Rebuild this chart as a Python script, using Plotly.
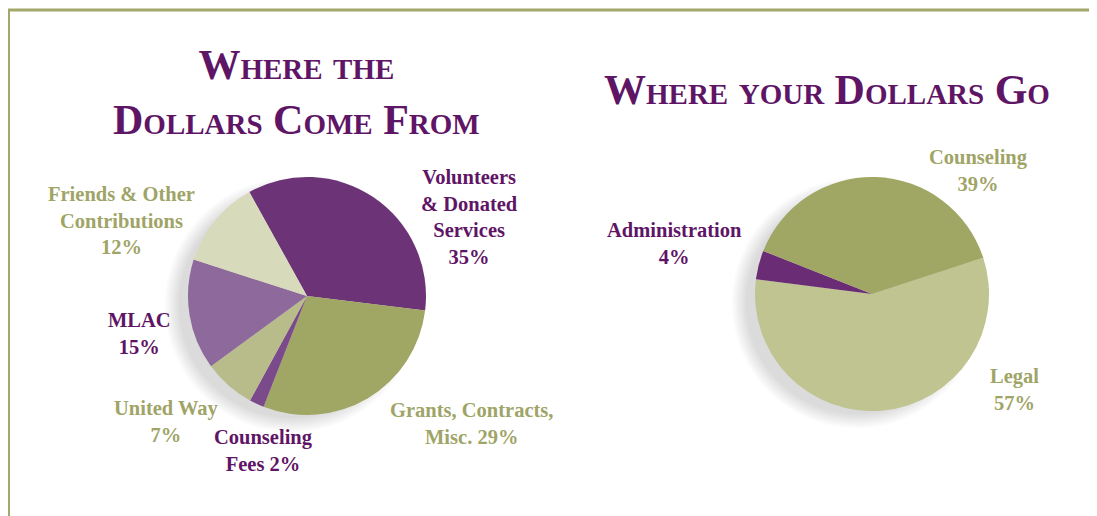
import plotly.graph_objects as go

# The page has an 8px body margin; figure sized to fit the window
OFF = 8
W, H = 1097 - OFF, 516 - OFF

# ---- data ----
src_labels = ["Volunteers & Donated Services", "Grants, Contracts, Misc.", "Counseling Fees",
              "United Way", "MLAC", "Friends & Other Contributions"]
src_values = [35, 29, 2, 7, 15, 12]
src_colors = ["#6c3377", "#a0a664", "#7b4a8b", "#b8bc8a", "#8d6a9b", "#d7dabb"]
src_text_lines = ["Volunteers<br>& Donated<br>Services", "Grants, Contracts,<br>Misc.", "Counseling<br>Fees",
                  "United Way", "MLAC", "Friends & Other<br>Contributions"]
src_text_sep = ["<br>", " ", " ", "<br>", "<br>", "<br>"]
src_text_colors = ["#5f1566", "#9fa467", "#5f1566", "#9fa467", "#5f1566", "#9fa467"]

use_labels = ["Legal", "Administration", "Counseling"]
use_values = [57, 4, 39]
use_colors = ["#bfc491", "#6a2c74", "#a0a664"]
use_text_colors = ["#9fa467", "#5f1566", "#9fa467"]

title_left = "Where the<br>Dollars Come From"
title_right = "Where your Dollars Go"

# ---- layout helpers (page pixels -> paper) ----
def px(x):
    return (x - OFF) / W

def py(y):
    return 1 - (y - OFF) / H

L_CX, L_CY, L_R = 307, 296, 119
R_CX, R_CY, R_R = 872, 294, 117

fig = go.Figure()

fig.add_trace(go.Pie(
    labels=src_labels, values=src_values, sort=False, direction="clockwise",
    rotation=-29, marker=dict(colors=src_colors, line=dict(width=0)),
    textinfo="none", hoverinfo="label+percent", showlegend=False,
    domain=dict(x=[px(L_CX - L_R), px(L_CX + L_R)], y=[py(L_CY + L_R), py(L_CY - L_R)]),
))
fig.add_trace(go.Pie(
    labels=use_labels, values=use_values, sort=False, direction="clockwise",
    rotation=72, marker=dict(colors=use_colors, line=dict(width=0)),
    textinfo="none", hoverinfo="label+percent", showlegend=False,
    domain=dict(x=[px(R_CX - R_R), px(R_CX + R_R)], y=[py(R_CY + R_R), py(R_CY - R_R)]),
))

shapes = []
# soft shadows behind the pies (offset to the lower-left)
for cx, cy, r in [(L_CX, L_CY, L_R), (R_CX, R_CY, R_R)]:
    for k in range(12):
        rr = r - 6 + 1.3 * k
        shapes.append(dict(
            type="circle", layer="below", xref="paper", yref="paper",
            xsizemode="pixel", ysizemode="pixel",
            xanchor=px(cx - 15), yanchor=py(cy + 9),
            x0=-rr, x1=rr, y0=-rr, y1=rr,
            fillcolor="#6e737e", opacity=0.02, line=dict(width=0),
        ))
# frame lines
border = "#a3a86a"
shapes.append(dict(type="line", xref="paper", yref="paper", x0=0.5 / W, x1=0.5 / W, y0=py(10), y1=0,
                   line=dict(color=border, width=3)))
shapes.append(dict(type="line", xref="paper", yref="paper", x0=0, x1=1, y0=py(10), y1=py(10),
                   line=dict(color=border, width=3)))

serif = "Liberation Serif, Times New Roman, serif"
ann = []
ann.append(dict(text="<b>" + title_left + "</b>", x=px(296), y=py(92), xref="paper", yref="paper",
                showarrow=False, xanchor="center", yanchor="middle", align="center",
                font=dict(family=serif, size=42, color="#5f1566", variant="small-caps")))
ann.append(dict(text="<b>" + title_right + "</b>", x=px(827), y=py(90), xref="paper", yref="paper",
                showarrow=False, xanchor="center", yanchor="middle", align="center",
                font=dict(family=serif, size=42, color="#5f1566", variant="small-caps")))

src_pos = [(469, 217), (471, 423), (263, 450), (166, 421), (139, 333), (121, 221)]
for i in range(len(src_labels)):
    t = src_text_lines[i] + src_text_sep[i] + f"{src_values[i]}%"
    ann.append(dict(text="<b>" + t + "</b>", x=px(src_pos[i][0]), y=py(src_pos[i][1]),
                    xref="paper", yref="paper", showarrow=False, xanchor="center", yanchor="middle",
                    align="center", font=dict(family=serif, size=20.5, color=src_text_colors[i])))

use_pos = [(1014, 389), (674, 243), (978, 170)]
for i in range(len(use_labels)):
    t = use_labels[i] + "<br>" + f"{use_values[i]}%"
    ann.append(dict(text="<b>" + t + "</b>", x=px(use_pos[i][0]), y=py(use_pos[i][1]),
                    xref="paper", yref="paper", showarrow=False, xanchor="center", yanchor="middle",
                    align="center", font=dict(family=serif, size=20.5, color=use_text_colors[i])))

fig.update_layout(
    width=W, height=H, margin=dict(l=0, r=0, t=0, b=0),
    paper_bgcolor="white", plot_bgcolor="white",
    shapes=shapes, annotations=ann,
)

fig.write_html("out.html")
